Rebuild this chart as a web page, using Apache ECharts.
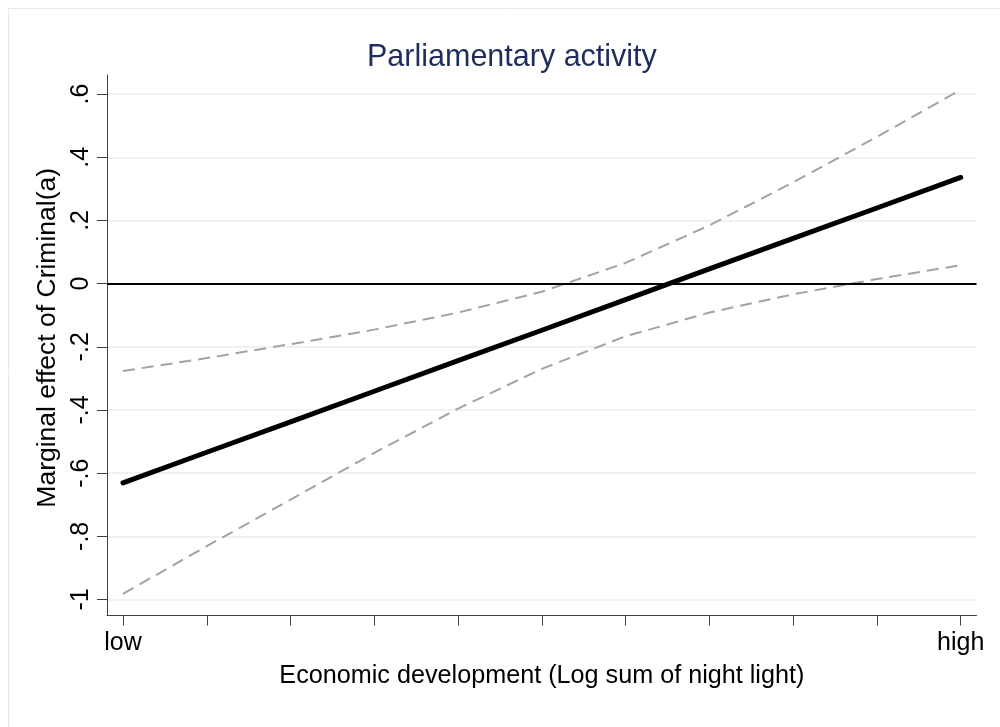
<!DOCTYPE html>
<html>
<head>
<meta charset="utf-8">
<script src="https://cdn.jsdelivr.net/npm/echarts@6/dist/echarts.min.js"></script>
<style>
html,body{margin:0;padding:0;background:#fff;}
#c{width:1000px;height:727px;}
</style>
</head>
<body>
<div id="c"></div>
<script>
// ---- data ----
const xValues = [0, 1, 2, 3, 4, 5, 6, 7, 8, 9, 10];
const xTickLabels = { 0: 'low', 10: 'high' };
const marginalEffect = [-0.631, -0.534, -0.438, -0.341, -0.244, -0.148, -0.051, 0.046, 0.143, 0.239, 0.336];
const upperCI = [-0.277, -0.236, -0.192, -0.146, -0.092, -0.026, 0.065, 0.184, 0.320, 0.464, 0.613];
const lowerCI = [-0.982, -0.831, -0.684, -0.536, -0.396, -0.270, -0.167, -0.092, -0.034, 0.014, 0.058];
const yTickMin = -1;
const yTickMax = 0.6;
const yTickStep = 0.2;

const titleText = 'Parliamentary activity';
const xTitle = 'Economic development (Log sum of night light)';
const yTitle = 'Marginal effect of Criminal(a)';

// ---- chart ----
const FONT = '"Liberation Sans", Arial, Helvetica, sans-serif';
const AXIS_COLOR = '#404040';
const pairs = arr => xValues.map((x, i) => [x, arr[i]]);
const yFmt = v => {
  if (Math.abs(v) < 1e-9) return '0';
  const s = String(Math.round(v * 10) / 10);
  return s.replace('0.', '.');
};

const chart = echarts.init(document.getElementById('c'), null, { renderer: 'canvas' });
chart.setOption({
  animation: false,
  backgroundColor: '#ffffff',
  title: {
    text: titleText,
    left: 362,
    top: 37.5,
    textStyle: { fontFamily: FONT, fontSize: 30.5, fontWeight: 'normal', color: '#1f2d5c' }
  },
  graphic: [{
    type: 'rect',
    silent: true,
    z: -10,
    shape: { x: 8.5, y: 8.5, width: 1000, height: 740 },
    style: { fill: 'none', stroke: '#e6eaea', lineWidth: 1 }
  }],
  grid: [
    { left: 107, right: 23.5, top: 75, bottom: 111.5 },     // data grid (axis lines)
    { left: 107, right: 23.5, top: 94.1, bottom: 127.5 },   // y ticks / grid lines
    { left: 123, right: 39.3, top: 75, bottom: 111.5 }      // x ticks
  ],
  xAxis: [
    {
      gridIndex: 0, type: 'value', min: -0.191, max: 10.189,
      axisLine: { show: true, onZero: false, lineStyle: { color: AXIS_COLOR, width: 1 } },
      axisTick: { show: false }, axisLabel: { show: false }, splitLine: { show: false }
    },
    {
      gridIndex: 1, type: 'value', min: 0, max: 10,
      axisLine: { show: false, onZero: false }, axisTick: { show: false },
      axisLabel: { show: false }, splitLine: { show: false }
    },
    {
      gridIndex: 2, type: 'value', min: xValues[0], max: xValues[xValues.length - 1], interval: 1,
      axisLine: { show: false, onZero: false },
      axisTick: { show: true, length: 10, lineStyle: { color: AXIS_COLOR, width: 1 } },
      axisLabel: {
        show: true, margin: 15.5, fontFamily: FONT, fontSize: 25, color: '#000',
        formatter: v => (xTickLabels[Math.round(v)] !== undefined ? xTickLabels[Math.round(v)] : '')
      },
      splitLine: { show: false },
      name: xTitle, nameLocation: 'middle', nameGap: 48,
      nameTextStyle: { fontFamily: FONT, fontSize: 25.2, color: '#000' }
    }
  ],
  yAxis: [
    {
      gridIndex: 0, type: 'value', min: -1.0506, max: 0.6598,
      axisLine: { show: true, onZero: false, lineStyle: { color: AXIS_COLOR, width: 1 } },
      axisTick: { show: false }, axisLabel: { show: false }, splitLine: { show: false }
    },
    {
      gridIndex: 1, type: 'value', min: yTickMin, max: yTickMax, interval: yTickStep,
      axisLine: { show: false, onZero: false },
      axisTick: { show: true, length: 10, lineStyle: { color: AXIS_COLOR, width: 1 } },
      axisLabel: {
        show: true, rotate: 90, margin: 13, fontFamily: FONT, fontSize: 25, color: '#000',
        formatter: yFmt
      },
      splitLine: { show: true, lineStyle: { color: '#e6eef2', width: 1.5 } },
      name: yTitle, nameLocation: 'middle', nameGap: 42,
      nameTextStyle: { fontFamily: FONT, fontSize: 26.5, color: '#000', padding: [0, 0, 0, 18] }
    },
    {
      gridIndex: 2, type: 'value', min: -1.0506, max: 0.6598,
      axisLine: { show: false, onZero: false }, axisTick: { show: false },
      axisLabel: { show: false }, splitLine: { show: false }
    }
  ],
  series: [
    {
      name: 'upper', type: 'line', xAxisIndex: 0, yAxisIndex: 0,
      data: pairs(upperCI), symbol: 'none', silent: true,
      lineStyle: { color: '#a3a3a3', width: 2, type: [12, 7] }
    },
    {
      name: 'lower', type: 'line', xAxisIndex: 0, yAxisIndex: 0,
      data: pairs(lowerCI), symbol: 'none', silent: true,
      lineStyle: { color: '#a3a3a3', width: 2, type: [12, 7] },
      markLine: {
        silent: true, symbol: ['none', 'none'], label: { show: false },
        lineStyle: { color: '#000', width: 2, type: 'solid' },
        data: [{ yAxis: 0 }]
      }
    },
    {
      name: 'effect', type: 'line', xAxisIndex: 0, yAxisIndex: 0,
      data: pairs(marginalEffect), symbol: 'none', silent: true,
      lineStyle: { color: '#000', width: 5, cap: 'round', join: 'round' }
    }
  ]
});
</script>
</body>
</html>
